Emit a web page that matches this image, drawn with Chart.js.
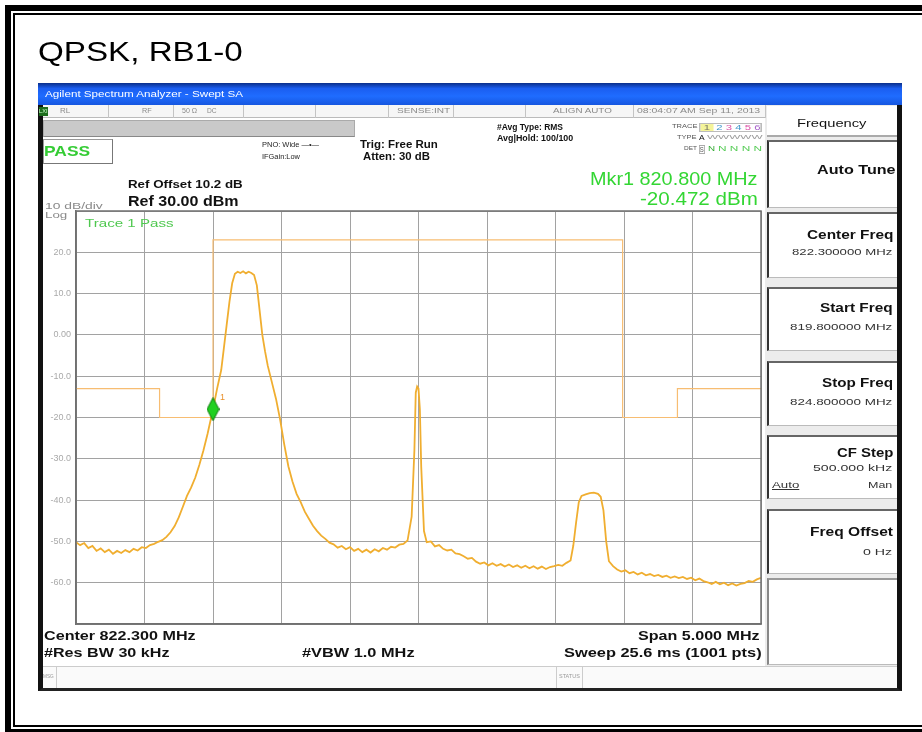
<!DOCTYPE html>
<html>
<head>
<meta charset="utf-8">
<script src="https://cdn.jsdelivr.net/npm/chart.js@4.4.1/dist/chart.umd.min.js"></script>
<style>
html, body { margin: 0; padding: 0; background: #fff; }
body { width: 922px; height: 732px; position: relative; overflow: hidden; font-family: "Liberation Sans", Arial, sans-serif; }
.box { position: absolute; box-sizing: border-box; }
.t { position: absolute; white-space: nowrap; transform-origin: 0 50%; z-index: 3; }
#c { position: absolute; left: 0; top: 0; z-index: 2; }
</style>
</head>
<body>
<!-- outer double frame -->
<div class="box" style="left:5px;top:5px;width:1000px;height:730px;border:6px solid #000;"></div>
<div class="box" style="left:13px;top:13px;width:1000px;height:714px;border:2px solid #000;"></div>

<!-- analyzer window -->
<div class="box" style="left:38px;top:83px;width:864px;height:608px;background:#fff;border-left:5px solid #111;border-right:5px solid #111;border-bottom:3px solid #222;z-index:1;"></div>
<div class="box" style="left:38px;top:83px;width:864px;height:22px;background:linear-gradient(#0a2f8a 0%,#1b5ef0 25%,#1f6cff 60%,#1656e0 100%);z-index:1;"></div>
<div class="box" style="left:43px;top:105px;width:722px;height:13px;background:#f6f6f6;border-bottom:1px solid #bbb;z-index:1;"></div>
<div class="box" style="left:39px;top:107px;width:9px;height:9px;background:#1d6d1d;z-index:1;"></div>
<div class="box" style="left:43px;top:120px;width:312px;height:17px;background:#c9c9c9;border:1px solid #aaa;border-bottom-color:#888;z-index:1;"></div>
<div class="box" style="left:43px;top:139px;width:70px;height:25px;border:1px solid #999;border-right-color:#777;border-bottom-color:#777;z-index:1;"></div>

<!-- right softkey panel -->
<div class="box" style="left:765px;top:105px;width:132px;height:561px;background:#ececec;z-index:1;"></div>
<div class="box" style="left:767px;top:106px;width:130px;height:31px;background:#fff;border-bottom:2px solid #aaa;z-index:1;"></div>
<div class="box" style="left:767px;top:140px;width:130px;height:68px;background:#fff;border-left:2px solid #333;border-top:2px solid #666;border-bottom:1px solid #bbb;z-index:1;"></div>
<div class="box" style="left:767px;top:212px;width:130px;height:66px;background:#fff;border-left:2px solid #333;border-top:2px solid #666;border-bottom:1px solid #bbb;z-index:1;"></div>
<div class="box" style="left:767px;top:287px;width:130px;height:64px;background:#fff;border-left:2px solid #333;border-top:2px solid #666;border-bottom:1px solid #bbb;z-index:1;"></div>
<div class="box" style="left:767px;top:361px;width:130px;height:65px;background:#fff;border-left:2px solid #333;border-top:2px solid #666;border-bottom:1px solid #bbb;z-index:1;"></div>
<div class="box" style="left:767px;top:435px;width:130px;height:64px;background:#fff;border-left:2px solid #333;border-top:2px solid #666;border-bottom:1px solid #bbb;z-index:1;"></div>
<div class="box" style="left:767px;top:509px;width:130px;height:65px;background:#fff;border-left:2px solid #333;border-top:2px solid #666;border-bottom:1px solid #bbb;z-index:1;"></div>
<div class="box" style="left:767px;top:578px;width:130px;height:87px;background:#fff;border-left:2px solid #888;border-top:2px solid #999;border-bottom:1px solid #bbb;z-index:1;"></div>

<!-- message bar -->
<div class="box" style="left:43px;top:666px;width:854px;height:22px;background:#fafafa;border-top:1px solid #ccc;z-index:1;"></div>
<div class="box" style="left:56px;top:667px;width:1px;height:21px;background:#ccc;z-index:1;"></div>
<div class="box" style="left:556px;top:667px;width:1px;height:21px;background:#ccc;z-index:1;"></div>
<div class="box" style="left:582px;top:667px;width:1px;height:21px;background:#ccc;z-index:1;"></div>

<canvas id="c" width="922" height="732"></canvas>

<script>
// trace 1 (average), frequency in MHz and level in dBm
const freqMHz = [
  819.80, 819.83, 819.86, 819.89, 819.92, 819.95, 819.98, 820.01, 820.04, 820.07,
  820.10, 820.13, 820.16, 820.19, 820.22, 820.25, 820.28, 820.31, 820.34, 820.37,
  820.40, 820.43, 820.46, 820.49, 820.52, 820.55, 820.58, 820.61, 820.64, 820.67,
  820.70, 820.73, 820.76, 820.80, 820.83, 820.86, 820.88, 820.90, 820.92, 820.94,
  820.96, 820.98, 821.00, 821.02, 821.04, 821.06, 821.08, 821.10, 821.12, 821.14,
  821.16, 821.18, 821.20, 821.23, 821.26, 821.29, 821.32, 821.35, 821.38, 821.41,
  821.44, 821.47, 821.50, 821.53, 821.56, 821.59, 821.62, 821.65, 821.68, 821.71,
  821.74, 821.77, 821.80, 821.83, 821.86, 821.89, 821.92, 821.95, 821.98, 822.01,
  822.04, 822.07, 822.10, 822.13, 822.16, 822.19, 822.22, 822.25, 822.27, 822.28,
  822.29, 822.30, 822.31, 822.32, 822.34, 822.36, 822.39, 822.42, 822.45, 822.48,
  822.51, 822.54, 822.57, 822.60, 822.63, 822.66, 822.69, 822.72, 822.75, 822.78,
  822.81, 822.84, 822.87, 822.90, 822.93, 822.96, 822.99, 823.02, 823.05, 823.08,
  823.11, 823.14, 823.17, 823.20, 823.23, 823.26, 823.29, 823.32, 823.35, 823.38,
  823.41, 823.43, 823.45, 823.47, 823.49, 823.52, 823.55, 823.58, 823.61, 823.63,
  823.65, 823.67, 823.69, 823.72, 823.75, 823.78, 823.81, 823.84, 823.87, 823.90,
  823.93, 823.96, 823.99, 824.02, 824.05, 824.08, 824.11, 824.14, 824.17, 824.20,
  824.23, 824.26, 824.29, 824.32, 824.35, 824.38, 824.41, 824.44, 824.47, 824.50,
  824.53, 824.56, 824.59, 824.62, 824.65, 824.68, 824.71, 824.74, 824.77, 824.80
];
const traceDbm = [
  -50.2, -50.9, -50.4, -51.6, -51.1, -52.3, -51.7, -52.6, -52.0, -53.0,
  -52.3, -52.8, -52.1, -52.6, -51.8, -52.2, -51.4, -51.6, -50.9, -50.6,
  -50.1, -49.7, -48.9, -47.8, -46.3, -44.2, -41.6, -39.0, -37.0, -34.6,
  -31.5, -28.0, -24.0, -18.0, -13.0, -8.5, -3.0, 2.5, 8.0, 12.5,
  14.8, 15.3, 15.0, 15.4, 14.9, 15.3, 15.0, 14.5, 12.0, 6.0,
  0.0, -4.0, -7.5, -11.5, -15.5, -20.5, -26.5, -31.8, -35.5, -38.5,
  -40.5, -42.8, -44.5, -46.2, -47.5, -48.6, -49.4, -50.3, -50.7, -51.5,
  -51.1, -51.9, -51.4, -52.3, -51.8, -52.6, -52.0, -52.7, -51.9, -52.4,
  -51.6, -52.0, -51.3, -51.5, -50.8, -50.6, -49.8, -44.0, -28.0, -14.0,
  -12.5, -13.0, -18.0, -32.0, -47.5, -50.2, -50.0, -51.2, -50.9, -51.8,
  -52.2, -52.0, -52.9, -53.1, -53.6, -54.2, -54.0, -54.9, -55.4, -55.1,
  -55.8, -55.3, -55.9, -55.5, -56.1, -55.6, -56.2, -55.8, -56.4, -55.9,
  -56.5, -56.0, -56.6, -56.1, -56.7, -56.2, -56.0, -55.7, -55.9, -55.2,
  -54.6, -51.0, -45.5, -40.5, -39.0, -38.6, -38.3, -38.2, -38.5, -39.2,
  -42.5, -50.0, -54.8, -56.0, -56.8, -57.3, -57.0, -57.7, -57.4, -58.0,
  -57.6, -58.2, -57.9, -58.4, -58.1, -58.6, -58.3, -58.8, -58.5, -58.9,
  -58.6, -59.1, -58.8, -59.4, -59.0, -59.6, -59.9, -60.3, -59.8, -60.4,
  -60.0, -60.6, -60.2, -60.7, -60.3, -60.1, -59.6, -59.8, -59.2, -58.8
];

// spectrum emission mask (limit line)
const limitFreqMHz = [819.80, 820.41, 820.41, 820.80, 820.80, 823.79, 823.79, 824.19, 824.19, 824.80];
const limitDbm = [-13, -13, -20, -20, 23, 23, -20, -20, -13, -13];

// marker 1
const markerFreqMHz = [820.80];
const markerDbm = [-18.0];

// axes: 10 divisions each
const xGridMHz = [819.8, 820.3, 820.8, 821.3, 821.8, 822.3, 822.8, 823.3, 823.8, 824.3, 824.8];
const yGridDbm = [-70, -60, -50, -40, -30, -20, -10, 0, 10, 20, 30];
const yTickLabels = ['', '-60.0', '-50.0', '-40.0', '-30.0', '-20.0', '-10.0', '0.00', '10.0', '20.0', ''];

function txt(s, x, yc, size, w, css, isHtml) {
  const d = document.createElement('div');
  d.className = 't';
  if (isHtml) d.innerHTML = s; else d.textContent = s;
  d.style.cssText = 'left:' + x + 'px;top:' + (yc - size / 2) + 'px;font-size:' + size + 'px;line-height:' + size + 'px;' + (css || '');
  document.body.appendChild(d);
  if (w) d.style.transform = 'scaleX(' + (w / d.offsetWidth) + ')';
  return d;
}

// page title
txt('QPSK, RB1-0', 38, 52, 28, 205, 'color:#000;');

// title bar + status row
txt('Agilent Spectrum Analyzer - Swept SA', 45, 94, 9, 198, 'color:#fff;');
txt('LXI', 39, 111, 5, 9, 'color:#cfc;');
const grey8 = 'color:#8a8a8a;';
txt('RL', 60, 111, 8, 10, grey8);
txt('RF', 142, 111, 8, 10, grey8);
txt('50 \u03A9', 182, 111, 8, 15, grey8);
txt('DC', 207, 111, 8, 10, grey8);
txt('SENSE:INT', 397, 111, 8, 53, grey8);
txt('ALIGN AUTO', 553, 111, 8, 59, grey8);
txt('08:04:07 AM Sep 11, 2013', 637, 111, 8, 123, grey8);
[108, 173, 243, 315, 388, 453, 525, 633, 765].forEach(function (x) {
  const d = document.createElement('div');
  d.className = 'box';
  d.style.cssText = 'left:' + x + 'px;top:105px;width:1px;height:13px;background:#c4c4c4;z-index:1;';
  document.body.appendChild(d);
});

// settings block
txt('PASS', 44, 151, 14, 46, 'color:#35cc35;font-weight:bold;');
txt('PNO: Wide  \u2014\u2022\u2014', 262, 145, 8, 57, 'color:#222;');
txt('IFGain:Low', 262, 157, 8, 38, 'color:#222;');
txt('Trig: Free Run', 360, 145, 10, 78, 'color:#111;font-weight:bold;');
txt('Atten: 30 dB', 363, 157, 10, 67, 'color:#111;font-weight:bold;');
txt('#Avg Type: RMS', 497, 127, 9, 66, 'color:#111;font-weight:bold;');
txt('Avg|Hold: 100/100', 497, 138, 9, 76, 'color:#111;font-weight:bold;');

// trace legend
txt('TRACE', 672, 126, 6, 25, 'color:#555;');
txt('<span style="background:#f4f49a;color:#776;">&nbsp;1&nbsp;</span> <span style="color:#49c;">2</span> <span style="color:#d5a;">3</span> <span style="color:#49c;">4</span> <span style="color:#d5a;">5</span> <span style="color:#a6c;">6</span>', 699, 126, 7, 63, 'border:1px solid #bbb;', true);
txt('TYPE', 677, 137, 6, 20, 'color:#555;');
txt('A', 699, 137, 7, 6, 'color:#111;');
txt('WWWWW', 707, 137, 6, 55, 'color:#9a9a9a;');
txt('DET', 684, 148, 6, 13, 'color:#555;');
txt('S', 699, 148, 7, 6, 'color:#555;border:1px solid #aaa;');
txt('N', 708, 148, 7, 7, 'color:#3a3;');
txt('N N N N', 718, 148, 7, 44, 'color:#5c5;');

// marker readout and reference level
txt('Mkr1 820.800 MHz', 590, 178, 19, 168, 'color:#33d633;');
txt('-20.472 dBm', 640, 198, 19, 118, 'color:#33d633;');
txt('Ref Offset 10.2 dB', 128, 184, 11, 115, 'color:#111;font-weight:bold;');
txt('Ref 30.00 dBm', 128, 201, 14, 110, 'color:#111;font-weight:bold;');
txt('10 dB/div', 45, 206, 8.5, 57, 'color:#8a8a8a;');
txt('Log', 45, 215, 8.5, 22, 'color:#8a8a8a;');
txt('Trace 1 Pass', 85, 223, 11, 88, 'color:#4fc84f;');
txt('1', 220, 397, 9, 5, 'color:#e9902a;');

// softkeys
txt('Frequency', 797, 123, 10.5, 70, 'color:#111;');
txt('Auto Tune', 817, 170, 12, 78, 'color:#111;font-weight:bold;');
txt('Center Freq', 807, 235, 12, 86, 'color:#111;font-weight:bold;');
txt('822.300000 MHz', 792, 252, 9, 101, 'color:#333;');
txt('Start Freq', 820, 308, 12, 73, 'color:#111;font-weight:bold;');
txt('819.800000 MHz', 790, 327, 9, 103, 'color:#333;');
txt('Stop Freq', 822, 383, 12, 71, 'color:#111;font-weight:bold;');
txt('824.800000 MHz', 790, 402, 9, 103, 'color:#333;');
txt('CF Step', 837, 453, 12, 56, 'color:#111;font-weight:bold;');
txt('500.000 kHz', 813, 468, 9, 80, 'color:#333;');
txt('Auto', 772, 485, 9, 28, 'color:#333;text-decoration:underline;');
txt('Man', 868, 485, 9, 25, 'color:#333;');
txt('Freq Offset', 810, 532, 12, 83, 'color:#111;font-weight:bold;');
txt('0 Hz', 863, 552, 9, 30, 'color:#333;');

// bottom annotations
const bold12 = 'color:#111;font-weight:bold;';
txt('Center 822.300 MHz', 44, 636, 12, 152, bold12);
txt('#Res BW 30 kHz', 44, 653, 12, 125, bold12);
txt('#VBW 1.0 MHz', 302, 653, 12, 113, bold12);
txt('Span 5.000 MHz', 638, 636, 12, 122, bold12);
txt('Sweep  25.6 ms (1001 pts)', 564, 653, 12, 198, bold12);
txt('MSG', 43, 676, 6, 11, 'color:#999;');
txt('STATUS', 559, 676, 6, 21, 'color:#999;');

// tall green diamond for marker 1
const diamond = document.createElement('canvas');
diamond.width = 13; diamond.height = 24;
(function () {
  const g = diamond.getContext('2d');
  g.beginPath();
  g.moveTo(6.5, 0.5); g.lineTo(12.5, 12); g.lineTo(6.5, 23.5); g.lineTo(0.5, 12); g.closePath();
  g.fillStyle = '#20d020'; g.fill();
  g.strokeStyle = '#0b7a0b'; g.lineWidth = 1; g.stroke();
})();

const ctx = document.getElementById('c').getContext('2d');
new Chart(ctx, {
  type: 'line',
  data: {
    datasets: [
      {
        label: 'Marker 1',
        data: markerFreqMHz.map(function (f, i) { return { x: f, y: markerDbm[i] }; }),
        showLine: false,
        pointStyle: diamond,
        pointRadius: 8
      },
      {
        label: 'Trace 1',
        data: freqMHz.map(function (f, i) { return { x: f, y: traceDbm[i] }; }),
        borderColor: '#f0ae30',
        borderWidth: 1.8,
        pointRadius: 0,
        tension: 0
      },
      {
        label: 'Limit',
        data: limitFreqMHz.map(function (f, i) { return { x: f, y: limitDbm[i] }; }),
        borderColor: '#f7bd72',
        borderWidth: 1.2,
        pointRadius: 0,
        tension: 0
      }
    ]
  },
  options: {
    responsive: false,
    animation: false,
    events: [],
    layout: { padding: { left: 38, top: 211, right: 161, bottom: 108 } },
    plugins: { legend: { display: false }, tooltip: { enabled: false } },
    scales: {
      x: {
        type: 'linear',
        min: 819.8,
        max: 824.8,
        afterBuildTicks: function (s) { s.ticks = xGridMHz.map(function (v) { return { value: v }; }); },
        afterFit: function (s) { s.height = 0; },
        ticks: { display: false },
        grid: { color: '#a2a2a2', lineWidth: 1, drawTicks: false },
        border: { color: '#707070', width: 1.5 }
      },
      y: {
        type: 'linear',
        min: -70,
        max: 30,
        afterBuildTicks: function (s) { s.ticks = yGridDbm.map(function (v) { return { value: v }; }); },
        afterFit: function (s) { s.width = 38; },
        ticks: {
          autoSkip: false,
          padding: 5,
          color: '#a9a9a9',
          font: { family: 'Liberation Sans', size: 9 },
          callback: function (v, i) { return yTickLabels[i]; }
        },
        grid: { color: '#a2a2a2', lineWidth: 1, drawTicks: false },
        border: { color: '#707070', width: 1.5 }
      }
    }
  },
  plugins: [{
    id: 'plotFrame',
    afterDraw: function (chart) {
      const a = chart.chartArea, g = chart.ctx;
      g.save();
      g.strokeStyle = '#707070';
      g.lineWidth = 1.5;
      g.strokeRect(a.left, a.top, a.right - a.left, a.bottom - a.top);
      g.restore();
    }
  }]
});
</script>
</body>
</html>
